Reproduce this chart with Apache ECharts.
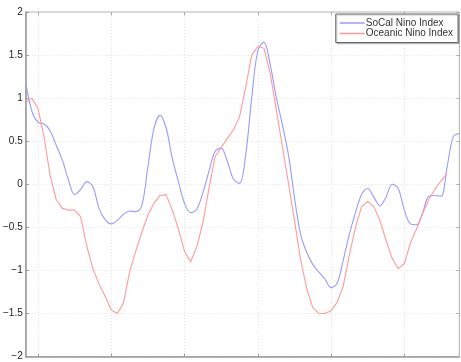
<!DOCTYPE html>
<html>
<head>
<meta charset="utf-8">
<script src="https://cdn.jsdelivr.net/npm/echarts@6/dist/echarts.min.js"></script>
<style>
  html, body { margin: 0; padding: 0; background: #fff; }
  #chart { width: 461px; height: 362px; }
</style>
</head>
<body>
<div id="chart"></div>
<script>
// Monthly index values (72 months); the red series stops a little early.
const months = Array.from({ length: 72 }, (_, i) => String(i));

const socalNino = [
  1.18, 0.85, 0.72, 0.70, 0.62, 0.45, 0.28, 0.05, -0.12, -0.06,
  0.03, -0.03, -0.28, -0.41, -0.46, -0.42, -0.35, -0.31, -0.32, -0.25,
  0.20, 0.65, 0.80, 0.65, 0.30, 0.03, -0.22, -0.33, -0.29, -0.10,
  0.15, 0.38, 0.42, 0.27, 0.06, 0.01, 0.33, 1.00, 1.55, 1.65,
  1.40, 1.02, 0.70, 0.35, -0.15, -0.58, -0.79, -0.93, -1.02, -1.10,
  -1.20, -1.15, -0.88, -0.58, -0.33, -0.12, -0.05, -0.15, -0.25, -0.15,
  0.00, -0.05, -0.30, -0.46, -0.47, -0.33, -0.14, -0.13, -0.14, 0.20,
  0.55, 0.59
];

const oceanicNino = [
  0.95, 1.00, 0.88, 0.55, 0.10, -0.18, -0.28, -0.30, -0.30, -0.38,
  -0.72, -0.98, -1.16, -1.30, -1.46, -1.50, -1.38, -1.02, -0.78, -0.56,
  -0.36, -0.22, -0.13, -0.12, -0.30, -0.52, -0.78, -0.90, -0.73, -0.45,
  -0.05, 0.32, 0.43, 0.53, 0.63, 0.78, 1.12, 1.50, 1.60, 1.58,
  1.30, 0.88, 0.45, 0.02, -0.42, -0.87, -1.21, -1.43, -1.50, -1.50,
  -1.47, -1.37, -1.18, -0.82, -0.50, -0.26, -0.20, -0.26, -0.42, -0.65,
  -0.86, -0.98, -0.92, -0.68, -0.52, -0.34, -0.18, -0.06, 0.04, 0.12
];

const seriesNames = ['SoCal Nino Index', 'Oceanic Nino Index'];
const blue = '#9a9aff';
const red = '#ff9a9a';

// Vertical grid/ticks every 12 months, starting at month 2
const yearMark = (idx) => idx % 12 === 2;

const frameColor = '#9a9a9a';
const gridLine = { show: true, lineStyle: { color: '#e2e2e2', type: [1, 2], width: 1 } };

const chart = echarts.init(document.getElementById('chart'), null, { renderer: 'canvas' });
chart.setOption({
  animation: false,
  backgroundColor: '#ffffff',
  textStyle: { fontFamily: 'Liberation Sans, Arial, sans-serif' },
  grid: {
    left: 25.5, right: 1.7, top: 12, bottom: 5.5,
    show: true, borderColor: '#b0b0b0', borderWidth: 1, backgroundColor: '#fff'
  },
  legend: {
    data: [
      { name: seriesNames[0], itemStyle: { color: blue } },
      { name: seriesNames[1], itemStyle: { color: red } }
    ],
    orient: 'vertical',
    right: 3, top: 14,
    icon: 'rect',
    itemWidth: 25, itemHeight: 1.5, itemGap: 0.5,
    padding: [4, 5, 4, 4],
    backgroundColor: '#fff',
    borderColor: '#6a6a6a', borderWidth: 1,
    shadowColor: 'rgba(0,0,0,0.25)', shadowOffsetX: 1, shadowOffsetY: 1, shadowBlur: 1,
    textStyle: { fontSize: 10, lineHeight: 10, color: '#333', padding: [0, 0, 0, -4] }
  },
  xAxis: [
    {
      type: 'category', data: months, boundaryGap: false,
      axisLine: { show: true, onZero: false, lineStyle: { color: frameColor, width: 1.5 } },
      axisTick: { show: true, inside: true, length: 3, interval: yearMark, lineStyle: { color: '#999' } },
      axisLabel: { show: false },
      splitLine: Object.assign({ interval: yearMark }, gridLine)
    },
    {
      type: 'category', data: months, boundaryGap: false, position: 'top',
      axisLine: { show: false, onZero: false },
      axisTick: { show: true, inside: true, length: 3, interval: yearMark, lineStyle: { color: '#aaa' } },
      axisLabel: { show: false },
      splitLine: { show: false }
    }
  ],
  yAxis: [
    {
      type: 'value', min: -2, max: 2, interval: 0.5,
      axisLine: { show: true, onZero: false, lineStyle: { color: frameColor, width: 1.5 } },
      axisTick: { show: true, inside: true, length: 3, lineStyle: { color: '#999' } },
      axisLabel: {
        fontSize: 10, color: '#222', margin: 3,
        formatter: (v) => (v < 0 ? '\u2212' + String(-v) : String(v))
      },
      splitLine: gridLine
    },
    {
      type: 'value', min: -2, max: 2, interval: 0.5, position: 'right',
      axisLine: { show: false, onZero: false },
      axisTick: { show: true, inside: true, length: 3, lineStyle: { color: '#aaa' } },
      axisLabel: { show: false },
      splitLine: { show: false }
    }
  ],
  series: [
    {
      name: seriesNames[0], type: 'line', data: socalNino,
      symbol: 'none', smooth: 0.35,
      lineStyle: { color: blue, width: 1.1 }, itemStyle: { color: blue }
    },
    {
      name: seriesNames[1], type: 'line', data: oceanicNino,
      symbol: 'none', smooth: false,
      lineStyle: { color: red, width: 1.1 }, itemStyle: { color: red }
    }
  ]
});
</script>
</body>
</html>
